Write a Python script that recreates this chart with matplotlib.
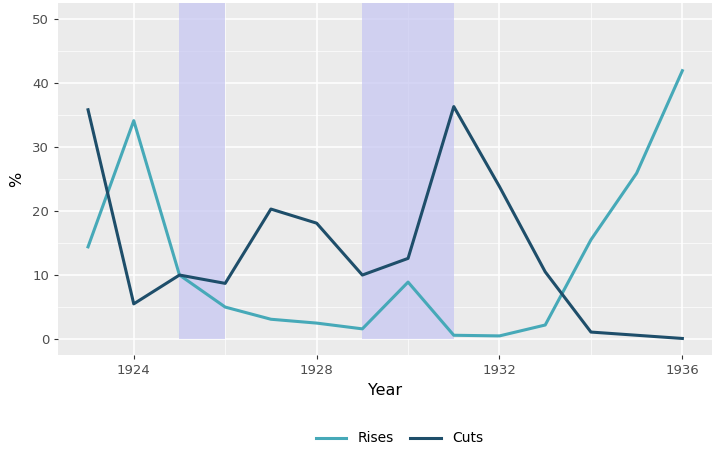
import matplotlib
matplotlib.use("Agg")
import matplotlib.pyplot as plt
import numpy as np

# data
years = list(range(1923, 1937))
rises = [14.4, 34.1, 10.0, 5.0, 3.1, 2.5, 1.6, 8.9, 0.6, 0.5, 2.2, 15.5, 25.9, 41.9]
cuts = [35.8, 5.5, 10.0, 8.7, 20.3, 18.1, 10.0, 12.6, 36.3, 23.8, 10.5, 1.1, 0.6, 0.1]
shade_spans = [(1925, 1926), (1929, 1931)]
x_ticks = [1924, 1928, 1932, 1936]
y_ticks = [0, 10, 20, 30, 40, 50]

col_rises = "#46a9b8"
col_cuts = "#1e4e6a"

fig = plt.figure(figsize=(7.2, 4.63), dpi=100)
ax = fig.add_axes([0.081, 0.233, 0.908, 0.761])
ax.set_facecolor("#ebebeb")

# shaded periods
for a, b in shade_spans:
    ax.fill_between([a, b], 0, 52.5, color="#c8c8f2", alpha=0.75, lw=0, zorder=1)

ax.plot(years, rises, color=col_rises, lw=2.2, label="Rises", zorder=3)
ax.plot(years, cuts, color=col_cuts, lw=2.2, label="Cuts", zorder=3)

ax.set_xlim(1922.35, 1936.65)
ax.set_ylim(-2.5, 52.5)
ax.set_xticks(x_ticks)
ax.set_xticks([1926, 1930, 1934], minor=True)
ax.set_yticks(y_ticks)
ax.set_yticks([5, 15, 25, 35, 45], minor=True)
ax.grid(which="major", color="white", lw=1.1, zorder=0)
ax.grid(which="minor", color="white", lw=0.5, zorder=0)
ax.set_axisbelow(True)
for s in ax.spines.values():
    s.set_visible(False)
ax.tick_params(which="major", length=3, color="#333333", labelsize=9.5, labelcolor="#4d4d4d")
ax.tick_params(which="minor", length=0)

ax.set_xlabel("Year", fontsize=11.5, labelpad=4)
ax.set_ylabel("%", fontsize=11.5, labelpad=6)

leg = fig.legend(loc="center", bbox_to_anchor=(0.555, 0.053), ncol=2, frameon=False,
                 fontsize=10, handlelength=2.2, columnspacing=1.2)

fig.savefig("out.png", dpi=100)
